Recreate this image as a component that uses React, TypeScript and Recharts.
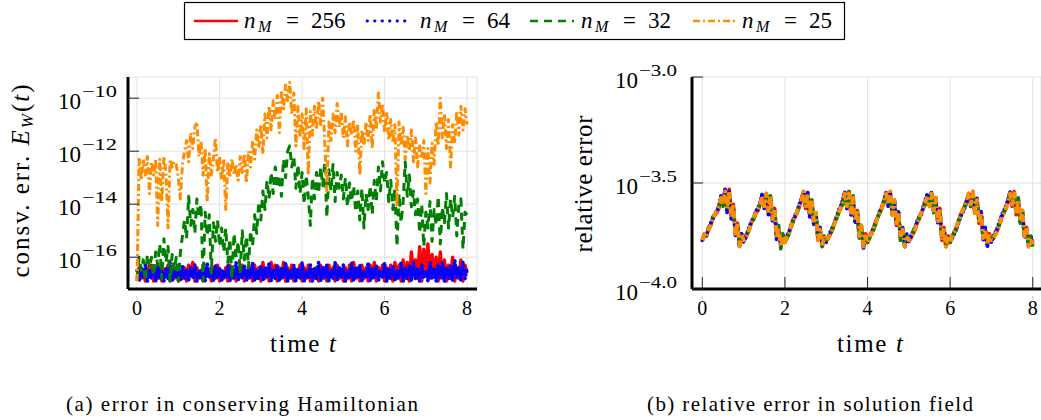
import { CartesianGrid, Line, LineChart, XAxis, YAxis } from 'recharts';

const SERIF = "'Liberation Serif', 'Times New Roman', serif";

const seriesKeys = ['n256', 'n64', 'n32', 'n25'];
const seriesLabels = ['256', '64', '32', '25'];
const seriesColors = ['#ff0000', '#0000ff', '#008000', '#ff8c00'];
const seriesDashes = ['', '0.5 3.5', '8 6', '7 3 2 3'];

const timeTicks = [0, 2, 4, 6, 8];
const consvTickExps = [-16, -14, -12, -10];
const relTickExps = [-4, -3.5, -3];

// sample times t = 0, 0.05, ..., 8
const times = Array.from({ length: 161 }, (_, i) => Math.round(i * 5) / 100);

// (a) log10 of the conservation error E_W(t)
const consv256 = [
  -16.9, -16.4, -16.8, -16.5, -16.9, -16.4, -16.7, -16.3, -16.9, -16.5,
  -16.8, -16.4, -16.9, -16.5, -16.7, -16.3, -16.9, -16.6, -16.8, -16.4,
  -16.9, -16.5, -16.8, -16.4, -16.9, -16.3, -16.7, -16.2, -16.9, -16.4,
  -16.8, -16.5, -16.9, -16.4, -16.7, -16.5, -16.9, -16.4, -16.8, -16.3,
  -16.9, -16.5, -16.8, -16.4, -16.9, -16.3, -16.8, -16.5, -16.9, -16.4,
  -16.7, -16.3, -16.9, -16.5, -16.8, -16.4, -16.9, -16.3, -16.8, -16.4,
  -16.9, -16.2, -16.8, -16.4, -16.9, -16.2, -16.7, -16.3, -16.9, -16.4,
  -16.8, -16.2, -16.9, -16.4, -16.8, -16.3, -16.9, -16.5, -16.7, -16.3,
  -16.9, -16.4, -16.8, -16.3, -16.9, -16.5, -16.8, -16.4, -16.9, -16.3,
  -16.8, -16.4, -16.9, -16.3, -16.7, -16.4, -16.9, -16.3, -16.8, -16.5,
  -16.9, -16.4, -16.8, -16.3, -16.9, -16.2, -16.8, -16.4, -16.9, -16.3,
  -16.8, -16.4, -16.9, -16.3, -16.8, -16.2, -16.9, -16.4, -16.7, -16.3,
  -16.9, -16.4, -16.8, -16.3, -16.9, -16.2, -16.8, -16.3, -16.9, -16.1,
  -16.8, -16.2, -16.9, -15.8, -16.7, -16.1, -16.8, -15.6, -16.9, -15.7,
  -16.6, -15.5, -16.8, -15.9, -16.7, -16.0, -16.9, -15.8, -16.8, -16.1,
  -16.9, -16.3, -16.8, -16.0, -16.9, -16.4, -16.8, -16.1, -16.9, -16.3,
  -16.6,
];
const consv64 = [
  -16.5, -16.9, -16.4, -16.8, -16.3, -16.9, -16.5, -16.8, -16.4, -16.9,
  -16.3, -16.8, -16.5, -16.9, -16.4, -16.8, -16.2, -16.9, -16.5, -16.8,
  -16.4, -16.9, -16.3, -16.8, -16.5, -16.9, -16.4, -16.8, -16.3, -16.9,
  -16.5, -16.8, -16.4, -16.9, -16.2, -16.8, -16.5, -16.9, -16.3, -16.8,
  -16.4, -16.9, -16.5, -16.8, -16.3, -16.9, -16.4, -16.8, -16.2, -16.9,
  -16.5, -16.8, -16.3, -16.9, -16.4, -16.8, -16.2, -16.9, -16.5, -16.8,
  -16.3, -16.9, -16.4, -16.8, -16.2, -16.9, -16.5, -16.8, -16.3, -16.9,
  -16.4, -16.8, -16.2, -16.9, -16.5, -16.8, -16.3, -16.9, -16.4, -16.8,
  -16.2, -16.9, -16.5, -16.8, -16.3, -16.9, -16.4, -16.8, -16.2, -16.9,
  -16.4, -16.8, -16.3, -16.9, -16.5, -16.8, -16.2, -16.9, -16.4, -16.8,
  -16.3, -16.9, -16.5, -16.8, -16.2, -16.9, -16.4, -16.8, -16.3, -16.9,
  -16.5, -16.8, -16.2, -16.9, -16.4, -16.8, -16.3, -16.9, -16.5, -16.8,
  -16.2, -16.9, -16.4, -16.8, -16.3, -16.9, -16.5, -16.8, -16.2, -16.9,
  -16.4, -16.8, -16.3, -16.9, -16.2, -16.8, -16.4, -16.9, -16.3, -16.8,
  -16.5, -16.9, -16.2, -16.8, -16.4, -16.9, -16.3, -16.8, -16.2, -16.9,
  -16.4, -16.8, -16.3, -16.9, -16.1, -16.8, -16.4, -16.9, -16.2, -16.8,
  -16.4,
];
const consv32 = [
  -16.8, -16.0, -16.5, -16.1, -16.9, -15.9, -16.4, -16.0, -16.7, -15.8,
  -16.3, -15.5, -16.8, -15.3, -16.2, -15.6, -16.9, -15.9, -16.5, -16.0,
  -16.9, -15.8, -15.2, -14.6, -15.3, -13.7, -14.8, -14.2, -15.1, -13.8,
  -14.5, -14.0, -16.9, -14.3, -15.2, -14.4, -16.6, -14.7, -15.4, -14.6,
  -15.6, -14.9, -15.8, -14.9, -16.2, -15.3, -16.8, -15.1, -16.0, -15.4,
  -16.6, -15.0, -16.1, -15.2, -16.4, -15.0, -15.6, -14.4, -15.1, -13.9,
  -14.6, -13.5, -14.2, -13.1, -13.8, -12.8, -13.6, -12.6, -13.4, -12.9,
  -13.7, -12.3, -13.0, -12.0, -11.8, -12.6, -12.2, -13.4, -12.5, -13.6,
  -12.8, -14.0, -12.9, -13.7, -14.8, -13.0, -13.8, -12.8, -13.6, -12.6,
  -13.3, -12.4, -14.5, -12.7, -13.5, -12.5, -13.9, -12.8, -13.4, -12.9,
  -13.8, -13.0, -14.1, -13.2, -13.9, -13.3, -14.3, -13.5, -14.6, -13.4,
  -14.9, -13.6, -14.2, -13.3, -14.4, -13.1, -13.9, -12.6, -13.5, -12.4,
  -13.2, -12.8, -13.9, -13.1, -14.2, -13.4, -15.6, -13.6, -14.7, -13.9,
  -12.4, -13.7, -12.9, -14.1, -13.5, -14.4, -13.8, -15.1, -14.0, -15.6,
  -14.3, -14.9, -13.9, -15.4, -14.2, -14.8, -13.7, -15.5, -14.1, -14.7,
  -13.6, -14.9, -13.8, -14.5, -13.7, -15.2, -14.0, -13.8, -15.7, -14.3,
  -14.4,
];
const consv25 = [
  -16.9, -12.3, -13.1, -12.3, -12.9, -12.2, -13.6, -12.4, -12.9, -12.3,
  -14.8, -12.3, -13.9, -12.2, -12.8, -14.9, -12.3, -12.6, -12.4, -12.5,
  -13.0, -13.8, -12.5, -12.0, -11.6, -12.4, -11.3, -11.9, -11.1, -10.9,
  -12.2, -11.6, -12.9, -11.9, -13.9, -12.1, -12.9, -12.3, -11.5, -12.8,
  -12.2, -13.1, -12.3, -14.2, -12.4, -13.0, -12.3, -12.9, -12.5, -13.1,
  -12.2, -12.8, -12.1, -13.2, -12.0, -12.6, -11.6, -12.3, -11.2, -11.9,
  -11.0, -12.1, -10.6, -11.5, -10.3, -11.2, -10.1, -10.8, -9.9, -11.3,
  -9.7, -10.4, -9.5, -10.1, -9.4, -10.6, -9.8, -11.8, -10.3, -11.5,
  -10.6, -11.9, -10.4, -12.9, -10.5, -11.4, -10.3, -11.2, -10.1, -11.0,
  -10.0, -11.7, -13.5, -10.9, -11.6, -10.6, -11.3, -10.2, -11.1, -10.5,
  -11.5, -10.7, -11.8, -10.9, -11.4, -10.8, -12.0, -11.0, -12.9, -11.2,
  -11.8, -10.9, -11.6, -10.6, -11.9, -10.4, -11.2, -9.8, -10.9, -10.2,
  -11.3, -10.5, -11.6, -10.8, -11.7, -11.0, -14.1, -10.9, -11.8, -11.1,
  -12.3, -11.4, -12.0, -11.2, -12.4, -11.5, -12.6, -11.8, -12.2, -11.6,
  -13.6, -11.9, -13.2, -11.7, -12.5, -10.9, -11.8, -10.0, -11.5, -10.6,
  -11.9, -10.8, -12.6, -11.0, -11.7, -10.5, -11.4, -10.3, -11.2, -10.4,
  -11.0,
];

// (b) log10 of the relative error
const rel256 = [
  -3.77, -3.74, -3.75, -3.72, -3.70, -3.67, -3.65, -3.64, -3.62, -3.57, -3.60, -3.54, -3.63, -3.53, -3.66, -3.60, -3.74, -3.69, -3.79, -3.74,
  -3.77, -3.76, -3.73, -3.71, -3.68, -3.66, -3.64, -3.63, -3.60, -3.56, -3.61, -3.55, -3.64, -3.57, -3.67, -3.62, -3.76, -3.71, -3.80, -3.75,
  -3.78, -3.75, -3.74, -3.70, -3.67, -3.66, -3.63, -3.61, -3.58, -3.54, -3.62, -3.55, -3.65, -3.58, -3.69, -3.65, -3.77, -3.72, -3.79, -3.76,
  -3.77, -3.76, -3.74, -3.72, -3.69, -3.66, -3.64, -3.62, -3.59, -3.55, -3.61, -3.54, -3.64, -3.57, -3.68, -3.63, -3.75, -3.70, -3.80, -3.74,
  -3.78, -3.75, -3.73, -3.71, -3.68, -3.66, -3.64, -3.61, -3.58, -3.55, -3.60, -3.54, -3.65, -3.59, -3.70, -3.64, -3.76, -3.72, -3.79, -3.75,
  -3.77, -3.76, -3.74, -3.72, -3.69, -3.67, -3.64, -3.62, -3.59, -3.56, -3.61, -3.55, -3.63, -3.57, -3.68, -3.62, -3.77, -3.71, -3.80, -3.75,
  -3.78, -3.75, -3.73, -3.71, -3.68, -3.65, -3.63, -3.61, -3.58, -3.55, -3.60, -3.54, -3.64, -3.58, -3.69, -3.64, -3.76, -3.72, -3.79, -3.74,
  -3.77, -3.76, -3.74, -3.72, -3.69, -3.66, -3.64, -3.62, -3.59, -3.55, -3.61, -3.54, -3.65, -3.58, -3.68, -3.63, -3.75, -3.71, -3.80, -3.76,
  -3.79,
];
const rel64 = [
  -3.77, -3.75, -3.74, -3.72, -3.69, -3.67, -3.65, -3.63, -3.61, -3.56, -3.59, -3.53, -3.64, -3.54, -3.67, -3.61, -3.75, -3.70, -3.80, -3.74,
  -3.78, -3.75, -3.73, -3.70, -3.68, -3.66, -3.63, -3.62, -3.59, -3.55, -3.62, -3.56, -3.65, -3.58, -3.68, -3.63, -3.77, -3.72, -3.79, -3.75,
  -3.77, -3.75, -3.73, -3.70, -3.68, -3.65, -3.63, -3.60, -3.57, -3.55, -3.61, -3.54, -3.66, -3.59, -3.70, -3.64, -3.76, -3.71, -3.80, -3.76,
  -3.78, -3.76, -3.73, -3.71, -3.69, -3.66, -3.63, -3.61, -3.58, -3.54, -3.62, -3.55, -3.65, -3.58, -3.69, -3.64, -3.76, -3.71, -3.81, -3.75,
  -3.77, -3.75, -3.74, -3.71, -3.69, -3.66, -3.63, -3.62, -3.59, -3.54, -3.61, -3.55, -3.64, -3.58, -3.69, -3.63, -3.77, -3.71, -3.80, -3.74,
  -3.78, -3.75, -3.73, -3.71, -3.68, -3.66, -3.65, -3.61, -3.58, -3.55, -3.60, -3.54, -3.64, -3.58, -3.69, -3.63, -3.76, -3.72, -3.79, -3.76,
  -3.77, -3.76, -3.74, -3.72, -3.69, -3.66, -3.64, -3.62, -3.59, -3.56, -3.61, -3.55, -3.63, -3.57, -3.68, -3.63, -3.77, -3.71, -3.80, -3.75,
  -3.78, -3.75, -3.73, -3.71, -3.68, -3.65, -3.63, -3.61, -3.58, -3.54, -3.60, -3.55, -3.64, -3.59, -3.69, -3.64, -3.76, -3.72, -3.79, -3.75,
  -3.78,
];
const rel32 = [
  -3.77, -3.74, -3.75, -3.71, -3.70, -3.66, -3.65, -3.63, -3.62, -3.58, -3.61, -3.55, -3.62, -3.55, -3.66, -3.61, -3.74, -3.70, -3.79, -3.75,
  -3.77, -3.75, -3.74, -3.71, -3.69, -3.67, -3.64, -3.62, -3.60, -3.57, -3.60, -3.55, -3.63, -3.56, -3.67, -3.62, -3.75, -3.70, -3.81, -3.74,
  -3.78, -3.76, -3.74, -3.71, -3.68, -3.66, -3.64, -3.61, -3.58, -3.55, -3.61, -3.56, -3.64, -3.58, -3.68, -3.64, -3.76, -3.72, -3.80, -3.75,
  -3.77, -3.75, -3.74, -3.72, -3.68, -3.67, -3.64, -3.62, -3.60, -3.56, -3.60, -3.54, -3.64, -3.56, -3.68, -3.62, -3.76, -3.71, -3.79, -3.75,
  -3.78, -3.76, -3.74, -3.72, -3.69, -3.66, -3.64, -3.62, -3.59, -3.55, -3.61, -3.55, -3.65, -3.58, -3.69, -3.65, -3.77, -3.72, -3.80, -3.75,
  -3.77, -3.75, -3.73, -3.71, -3.69, -3.66, -3.64, -3.62, -3.60, -3.56, -3.62, -3.56, -3.64, -3.57, -3.68, -3.62, -3.76, -3.72, -3.81, -3.74,
  -3.78, -3.76, -3.73, -3.72, -3.68, -3.66, -3.64, -3.61, -3.59, -3.55, -3.61, -3.55, -3.65, -3.58, -3.68, -3.64, -3.77, -3.71, -3.79, -3.75,
  -3.77, -3.75, -3.74, -3.72, -3.69, -3.67, -3.64, -3.62, -3.58, -3.56, -3.60, -3.55, -3.64, -3.57, -3.69, -3.63, -3.76, -3.72, -3.80, -3.75,
  -3.80,
];
const rel25 = [
  -3.77, -3.74, -3.75, -3.72, -3.70, -3.67, -3.65, -3.63, -3.61, -3.57, -3.60, -3.54, -3.62, -3.54, -3.66, -3.60, -3.75, -3.69, -3.80, -3.74,
  -3.77, -3.76, -3.74, -3.71, -3.68, -3.66, -3.64, -3.62, -3.60, -3.56, -3.61, -3.55, -3.64, -3.56, -3.67, -3.62, -3.76, -3.71, -3.80, -3.75,
  -3.78, -3.75, -3.74, -3.70, -3.68, -3.66, -3.63, -3.61, -3.58, -3.54, -3.61, -3.55, -3.65, -3.58, -3.69, -3.64, -3.77, -3.72, -3.80, -3.75,
  -3.77, -3.76, -3.74, -3.72, -3.69, -3.66, -3.64, -3.62, -3.59, -3.55, -3.61, -3.55, -3.64, -3.57, -3.68, -3.63, -3.75, -3.70, -3.80, -3.75,
  -3.78, -3.75, -3.74, -3.71, -3.69, -3.66, -3.64, -3.62, -3.58, -3.55, -3.60, -3.54, -3.65, -3.58, -3.70, -3.64, -3.76, -3.72, -3.80, -3.75,
  -3.77, -3.76, -3.74, -3.72, -3.69, -3.67, -3.64, -3.62, -3.59, -3.56, -3.61, -3.55, -3.63, -3.57, -3.68, -3.62, -3.77, -3.71, -3.80, -3.75,
  -3.78, -3.75, -3.73, -3.71, -3.68, -3.66, -3.63, -3.61, -3.58, -3.55, -3.60, -3.54, -3.64, -3.58, -3.69, -3.64, -3.76, -3.72, -3.79, -3.75,
  -3.77, -3.76, -3.74, -3.72, -3.69, -3.66, -3.64, -3.62, -3.59, -3.55, -3.61, -3.54, -3.65, -3.58, -3.68, -3.63, -3.75, -3.71, -3.80, -3.76,
  -3.79,
];

const consvSeries = [consv256, consv64, consv32, consv25];
const relSeries = [rel256, rel64, rel32, rel25];

const toRows = (series: number[][]) =>
  times.map((t, i) => {
    const row: Record<string, number> = { t };
    seriesKeys.forEach((k, s) => {
      row[k] = 10 ** series[s][i];
    });
    return row;
  });

const consvRows = toRows(consvSeries);
const relRows = toRows(relSeries);

const serif = { fontFamily: SERIF };

type TickArgs = { x?: number; y?: number; payload?: { value: number } };

function timeTick(innerTicks: boolean) {
  return ({ x = 0, payload }: TickArgs) => (
    <g>
      {innerTicks && <line x1={x} x2={x} y1={277} y2={289} stroke="#222" strokeWidth={1} />}
      <line x1={x} x2={x} y1={296} y2={300} stroke="#c8c8c8" strokeWidth={1} />
      <text x={x} y={315} textAnchor="middle" style={serif} fontSize={20} fill="#000">
        {payload?.value}
      </text>
    </g>
  );
}

function powTick(plotLeft: number, gap: number, expWidth: number, digits: number) {
  return ({ y = 0, payload }: TickArgs) => {
    const e = Math.log10(payload?.value ?? 1);
    const exp = e.toFixed(digits).replace('-', '\u2212');
    const expX = plotLeft - gap - expWidth;
    return (
      <g>
        <line x1={plotLeft} x2={plotLeft + 11} y1={y} y2={y} stroke="#222" strokeWidth={1} />
        <text x={expX} y={y - 1} style={serif} fontSize={17} fill="#000" textLength={expWidth} lengthAdjust="spacingAndGlyphs">
          {exp}
        </text>
        <text x={expX - 1} y={y + 11} textAnchor="end" style={serif} fontSize={23} fill="#000">
          10
        </text>
      </g>
    );
  };
}

function seriesLines(widths: number[]) {
  return seriesKeys.map((k, s) => (
    <Line
      key={k}
      type="linear"
      dataKey={k}
      stroke={seriesColors[s]}
      strokeWidth={widths[s]}
      strokeDasharray={seriesDashes[s] || undefined}
      strokeLinecap={s === 1 ? 'round' : 'butt'}
      strokeLinejoin="round"
      dot={false}
      activeDot={false}
      isAnimationActive={false}
    />
  ));
}

function ConsvChart() {
  return (
    <LineChart width={500} height={330} data={consvRows} margin={{ top: 77, right: 23, bottom: 0, left: 0 }}>
      <CartesianGrid stroke="#e2e2e2" />
      <XAxis
        dataKey="t"
        type="number"
        domain={[-0.22, 8.24]}
        ticks={timeTicks}
        allowDataOverflow
        height={41}
        tickSize={0}
        tickLine={false}
        tick={timeTick(false)}
        axisLine={{ stroke: '#000', strokeWidth: 3 }}
      />
      <YAxis
        type="number"
        scale="log"
        domain={[10 ** -17.2, 10 ** -9.2]}
        ticks={consvTickExps.map((e) => 10 ** e)}
        allowDataOverflow
        width={128}
        tickSize={0}
        tickLine={false}
        tick={powTick(128, 11, 35, 0)}
        axisLine={{ stroke: '#000', strokeWidth: 3 }}
      />
      {seriesLines([3.4, 3.6, 3, 3])}
    </LineChart>
  );
}

function RelChart() {
  return (
    <LineChart width={521} height={330} data={relRows} margin={{ top: 77, right: 0, bottom: 0, left: 0 }}>
      <CartesianGrid stroke="#e2e2e2" />
      <XAxis
        dataKey="t"
        type="number"
        domain={[-0.25, 8.2]}
        ticks={timeTicks}
        allowDataOverflow
        height={41}
        tickSize={0}
        tickLine={false}
        tick={timeTick(true)}
        axisLine={{ stroke: '#000', strokeWidth: 3 }}
      />
      <YAxis
        type="number"
        scale="log"
        domain={[1e-4, 1e-3]}
        ticks={relTickExps.map((e) => 10 ** e)}
        allowDataOverflow
        width={172}
        tickSize={0}
        tickLine={false}
        tick={powTick(172, 15, 38, 1)}
        axisLine={{ stroke: '#000', strokeWidth: 3 }}
      />
      {seriesLines([3.6, 3.8, 3.6, 4])}
    </LineChart>
  );
}

const legendLineX = [194, 367, 530, 693];
const legendTextX = [244, 420, 581, 742];

function Overlay() {
  return (
    <svg width={1041} height={420} style={{ position: 'absolute', left: 0, top: 0, pointerEvents: 'none', fontFamily: SERIF }}>
      <rect x={184.5} y={2.5} width={660} height={37} fill="#fff" stroke="#000" strokeWidth={1.2} />
      {seriesKeys.map((k, s) => (
        <g key={k}>
          <line
            x1={legendLineX[s]}
            x2={legendLineX[s] + 44}
            y1={21}
            y2={21}
            stroke={seriesColors[s]}
            strokeWidth={s === 1 ? 2.8 : 2.4}
            strokeLinecap={s === 1 ? 'round' : 'butt'}
            strokeDasharray={s === 1 ? '0.5 7' : seriesDashes[s] || undefined}
          />
          <text y={28} fontSize={23} fill="#000" style={serif}>
            <tspan x={legendTextX[s]} fontStyle="italic">n</tspan>
            <tspan x={legendTextX[s] + 14} dy={4} fontSize={16} fontStyle="italic">M</tspan>
            <tspan x={legendTextX[s] + 42} dy={-4}>=</tspan>
            <tspan x={legendTextX[s] + 67}>{seriesLabels[s]}</tspan>
          </text>
        </g>
      ))}

      <text transform="translate(29,181) rotate(-90)" textAnchor="middle" fontSize={25} fill="#000" style={serif} textLength={193} lengthAdjust="spacing">
        consv. err.{' '}
        <tspan fontStyle="italic">E</tspan>
        <tspan fontStyle="italic" fontSize={17} dy={4}>W</tspan>
        <tspan dy={-4}>(</tspan>
        <tspan fontStyle="italic">t</tspan>)
      </text>
      <text transform="translate(592,184) rotate(-90)" textAnchor="middle" fontSize={25} fill="#000" style={serif} textLength={137} lengthAdjust="spacing">
        relative error
      </text>

      <text x={303} y={352} textAnchor="middle" fontSize={25} fill="#000" style={serif} textLength={66} lengthAdjust="spacing">
        time <tspan fontStyle="italic">t</tspan>
      </text>
      <text x={870} y={352} textAnchor="middle" fontSize={25} fill="#000" style={serif} textLength={66} lengthAdjust="spacing">
        time <tspan fontStyle="italic">t</tspan>
      </text>

      <text x={66} y={411} fontSize={21} fill="#000" style={serif} textLength={352} lengthAdjust="spacing">
        (a) error in conserving Hamiltonian
      </text>
      <text x={647} y={411} fontSize={21} fill="#000" style={serif} textLength={326} lengthAdjust="spacing">
        (b) relative error in solution field
      </text>
    </svg>
  );
}

export default function App() {
  return (
    <div style={{ position: 'absolute', left: 0, top: 0, width: 1041, height: 420, background: '#fff', overflow: 'hidden', fontFamily: SERIF }}>
      <div style={{ position: 'absolute', left: 0, top: 0 }}>
        <ConsvChart />
      </div>
      <div style={{ position: 'absolute', left: 520, top: 0 }}>
        <RelChart />
      </div>
      <Overlay />
    </div>
  );
}
